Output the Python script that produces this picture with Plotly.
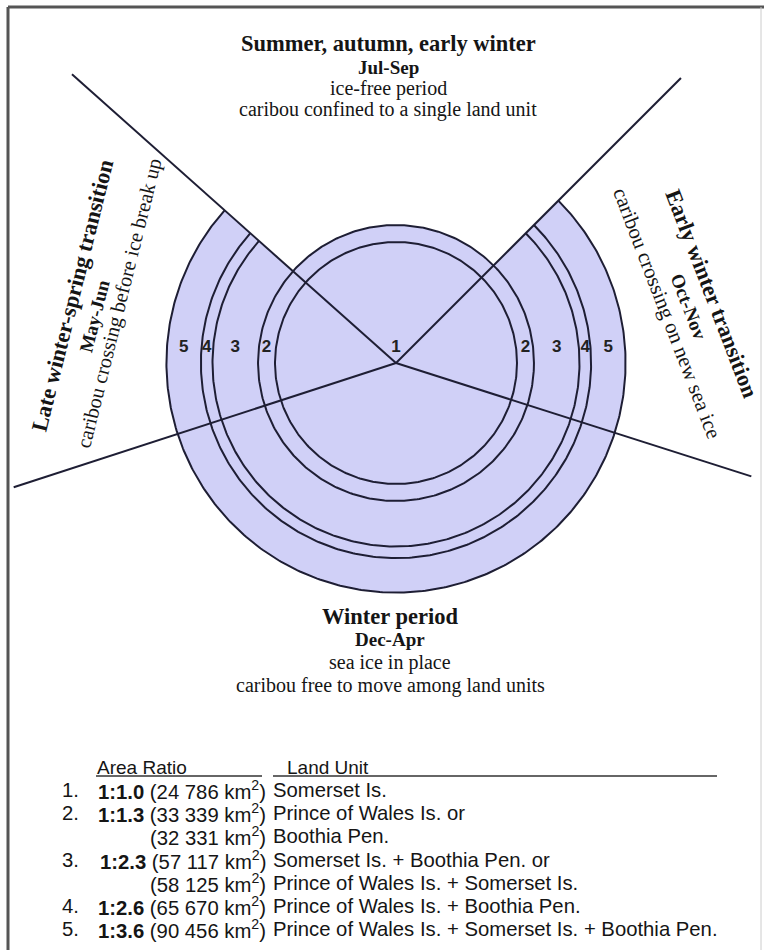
import numpy as np
import plotly.graph_objects as go

# ---------------- data ----------------
area_ratios = [1.0, 1.3, 2.3, 2.6, 3.6]
ring_labels = ["1", "2", "3", "4", "5"]
# season boundary directions (degrees, counter-clockwise from east)
season_boundaries = [138.3, 45.0, -17.7, 198.0]

top_text = ["Summer, autumn, early winter", "Jul-Sep", "ice-free period",
            "caribou confined to a single land unit"]
bottom_text = ["Winter period", "Dec-Apr", "sea ice in place",
               "caribou free to move among land units"]
left_text = ["Late winter-spring transition", "May-Jun",
             "caribou crossing before ice break up"]
right_text = ["Early winter transition", "Oct-Nov",
              "caribou crossing on new sea ice"]

row_numbers = ["1.", "2.", "", "3.", "", "4.", "5."]
row_ratios = ["1:1.0", "1:1.3", "", "1:2.3", "", "1:2.6", "1:3.6"]
row_areas = ["24 786", "33 339", "32 331", "57 117", "58 125", "65 670", "90 456"]
row_units = ["Somerset Is.", "Prince of Wales Is. or", "Boothia Pen.",
             "Somerset Is. + Boothia Pen. or", "Prince of Wales Is. + Somerset Is.",
             "Prince of Wales Is. + Boothia Pen.",
             "Prince of Wales Is. + Somerset Is. + Boothia Pen."]
table_headers = ["Area Ratio", "Land Unit"]

# ---------------- layout constants ----------------
W, H = 764, 950
cx, cy = 396, 363
R1 = 121
ray_lengths = [434, 403, 373, 402]
FILL = "#d0d0f7"
INK = "#1e1e34"
SERIF = "Liberation Serif, Times New Roman, serif"
SANS = "Liberation Sans, Arial, sans-serif"

radii = [R1 * np.sqrt(a) for a in area_ratios]
ul, ur, lr, ll = season_boundaries
a_start, a_end = ul, ur + 360.0  # open sector: everything except the top wedge


def pt(r, deg):
    t = np.deg2rad(deg)
    return cx + r * np.cos(t), cy - r * np.sin(t)


def arc(r, d0, d1, n=400):
    t = np.linspace(d0, d1, n)
    xs, ys = pt(r, t)
    return list(xs), list(ys)


fig = go.Figure()

# fill: sector out to ring 5, plus full disk of ring 2
xs, ys = arc(radii[4], a_start, a_end)
fig.add_trace(go.Scatter(x=[cx] + xs + [cx], y=[cy] + ys + [cy], mode="lines",
                         fill="toself", fillcolor=FILL, line=dict(width=0),
                         hoverinfo="skip", showlegend=False))
xs, ys = arc(radii[1], 0, 360)
fig.add_trace(go.Scatter(x=xs, y=ys, mode="lines", fill="toself", fillcolor=FILL,
                         line=dict(width=0), hoverinfo="skip", showlegend=False))

# rings
for i, r in enumerate(radii):
    if i < 2:
        xs, ys = arc(r, 0, 360)
    else:
        xs, ys = arc(r, a_start, a_end)
    fig.add_trace(go.Scatter(x=xs, y=ys, mode="lines", line=dict(color=INK, width=2),
                             hoverinfo="skip", showlegend=False))

# season boundary rays
for ang, L in zip(season_boundaries, ray_lengths):
    x1, y1 = pt(L, ang)
    fig.add_trace(go.Scatter(x=[cx, x1], y=[cy, y1], mode="lines",
                             line=dict(color=INK, width=2), hoverinfo="skip",
                             showlegend=False))

# ring labels
lab_x, lab_y, lab_t = [cx], [cy - 15], [ring_labels[0]]
for i in range(1, 5):
    rm = (radii[i - 1] + radii[i]) / 2
    lab_x += [cx - rm, cx + rm]
    lab_y += [cy - 15, cy - 15]
    lab_t += [ring_labels[i], ring_labels[i]]
fig.add_trace(go.Scatter(x=lab_x, y=lab_y, mode="text", text=["<b>%s</b>" % t for t in lab_t],
                         textfont=dict(family=SANS, size=17, color="#222"),
                         hoverinfo="skip", showlegend=False))

annotations = []


def add_text(x, y, text, size, angle=0, family=SERIF, xanchor="center", color="#151515"):
    annotations.append(dict(x=x, y=y, xref="x", yref="y", text=text, showarrow=False,
                            textangle=angle, xanchor=xanchor, yanchor="middle",
                            font=dict(family=family, size=size, color=color)))


def styled(lines):
    return ["<b>%s</b>" % t if i < 2 else t for i, t in enumerate(lines)]


# top block
for t, y, s in zip(styled(top_text), [43, 67, 88, 109], [22.5, 19, 20, 20]):
    add_text(388, y, t, s)
# bottom block
for t, y, s in zip(styled(bottom_text), [616, 639, 662, 685], [22.5, 19, 20, 20]):
    add_text(390, y, t, s)
# left block
for t, (x, y), s in zip(styled(left_text), [(72, 295), (94, 316), (119, 303)], [22.5, 19, 20.5]):
    add_text(x, y, t, s, angle=-76)
# right block
for t, (x, y), s in zip(styled(right_text), [(712, 293), (689, 306), (667, 313)], [22.5, 19, 21]):
    add_text(x, y, t, s, angle=69)

# table
TS = 20.3
add_text(142, 767, table_headers[0], 19, family=SANS)
add_text(285, 767, table_headers[1], 19, family=SANS, xanchor="left")
row_y0, row_dy = 790, 23.2
for i in range(len(row_units)):
    y = row_y0 + i * row_dy
    if row_numbers[i]:
        add_text(81, y, row_numbers[i], TS, family=SANS, xanchor="right")
    area = "(%s km<sup>2</sup>)" % row_areas[i]
    if row_ratios[i]:
        area = "<b>%s</b> %s" % (row_ratios[i], area)
    add_text(268, y, area, TS, family=SANS, xanchor="right")
    add_text(271, y, row_units[i], TS, family=SANS, xanchor="left")

shapes = [
    dict(type="line", x0=96, x1=262, y0=776, y1=776, line=dict(color="#333", width=1.5)),
    dict(type="line", x0=273, x1=717, y0=776, y1=776, line=dict(color="#333", width=1.5)),
    # frame
    dict(type="line", x0=8, x1=764, y0=7, y1=7, line=dict(color="#555", width=3)),
    dict(type="line", x0=8, x1=8, y0=7, y1=950, line=dict(color="#555", width=3)),
    dict(type="line", x0=761, x1=761, y0=7, y1=950, line=dict(color="#ccc", width=1)),
]

fig.update_layout(
    width=W, height=H, margin=dict(l=0, r=0, t=0, b=0),
    paper_bgcolor="white", plot_bgcolor="white",
    xaxis=dict(range=[0, W], visible=False, fixedrange=True),
    yaxis=dict(range=[H, 0], visible=False, fixedrange=True),
    annotations=annotations, shapes=shapes, showlegend=False,
)

fig.write_html("out.html", config={"displayModeBar": False},
               post_script="document.body.style.margin='0';document.body.style.overflow='hidden';")
